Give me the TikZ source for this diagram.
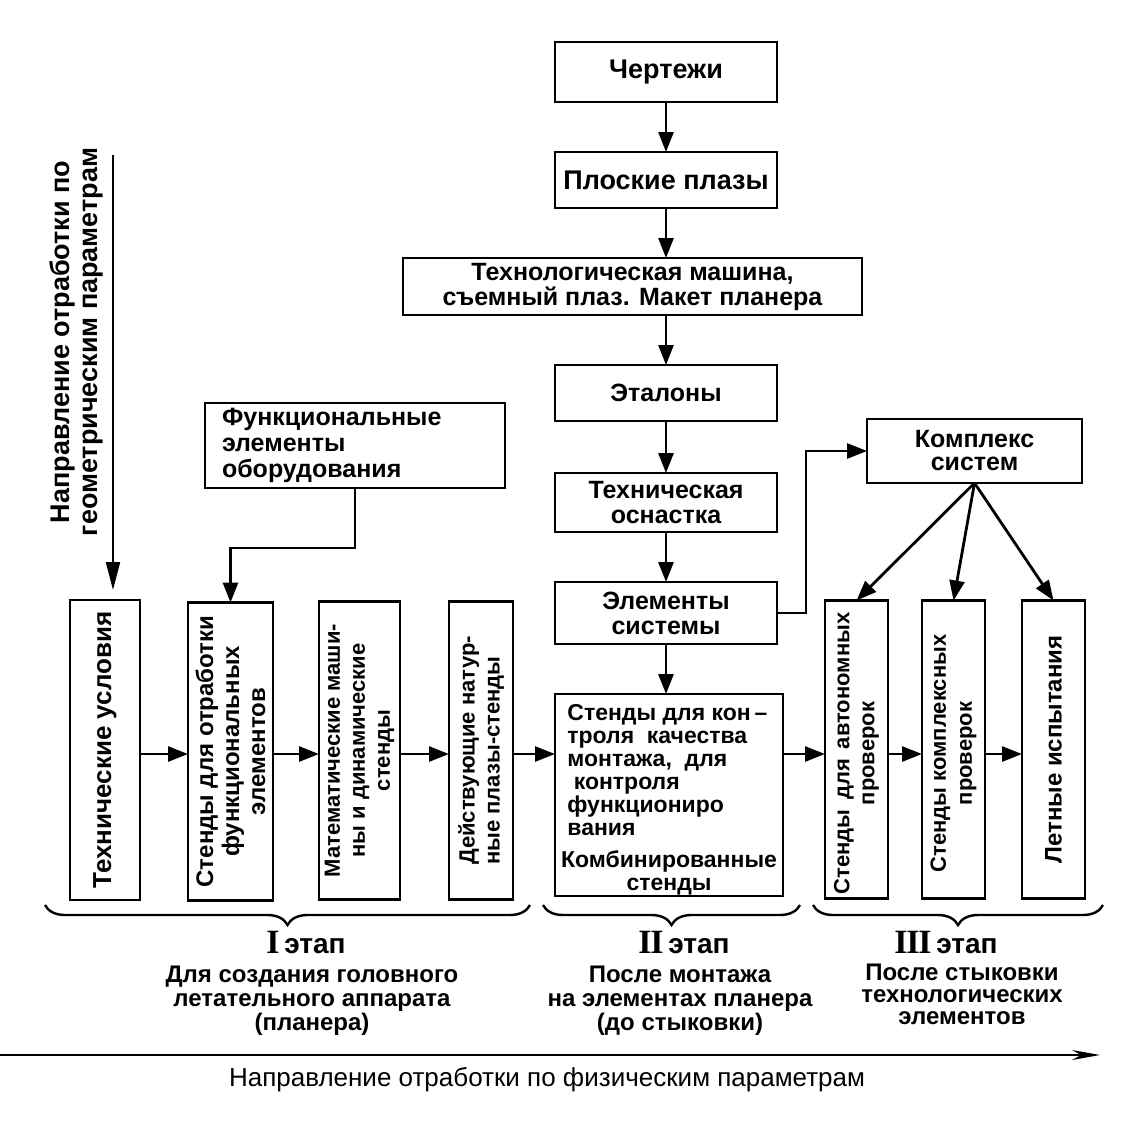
\documentclass[tikz,border=0pt]{standalone}
\usepackage{fontspec}
\setmainfont{Liberation Sans}
\newfontfamily\romfont{Liberation Serif}
\usetikzlibrary{arrows.meta,positioning,decorations.pathreplacing,calc}
\newcommand{\stagenum}[1]{{\romfont\bfseries\fontsize{17}{17}\selectfont #1}}

\begin{document}
\begin{tikzpicture}[x=0.5pt, y=-0.5pt,
  box/.style={rectangle, draw, line width=1.4pt, outer sep=0pt, inner sep=2pt, align=center, font=\bfseries\fontsize{12.5}{12.5}\selectfont},
  chain/.style={box, minimum width=111pt, minimum height=28pt},
  vbox/.style={rectangle, draw, line width=1.4pt, outer sep=0pt, minimum height=149pt, inner sep=0pt},
  vtext/.style={rotate=90, align=center, inner sep=0pt, font=\bfseries\fontsize{12}{13}\selectfont},
  arrow/.style={-{Triangle[length=10pt,width=7.5pt]}, line width=1.4pt},
  stage/.style={align=center, inner sep=0pt, font=\bfseries\fontsize{12}{12}\selectfont},
  brc/.style={decorate, decoration={brace, mirror, amplitude=10pt}, line width=1.2pt},
]
  \useasboundingbox (0,0) rectangle (1139,1120);

  \node[chain, minimum height=30pt, font=\bfseries\fontsize{13.5}{13.5}\selectfont] (cher) at (666,72) {Чертежи};
  \node[chain, below=25pt of cher, font=\bfseries\fontsize{13.5}{13.5}\selectfont] (plaz) {Плоские плазы};
  \node[box, minimum width=229.5pt, minimum height=28.5pt, below=25pt of plaz, xshift=-16.75pt] (mash) {Технологическая машина,\\съемный плаз. Макет планера};
  \node[chain, below=25pt of mash, xshift=16.75pt] (etal) {Эталоны};
  \node[chain, minimum height=29.5pt, below=26pt of etal] (osn) {Техническая\\оснастка};
  \node[chain, minimum height=31pt, below=25pt of osn] (elem) {Элементы\\системы};
  \node[box, minimum width=114pt, minimum height=101pt, below=25pt of elem.south west, anchor=north west] (kontr) {};
  \node[anchor=north west, align=left, inner sep=0pt, font=\bfseries\fontsize{11.5}{11.5}\selectfont] (kontrtxt) at ([xshift=6pt,yshift=-5pt]kontr.north west) {Стенды для кон\,--\\троля\ \ качества\\монтажа,\ \ для\\\ контроля\\функциониро\\вания};
  \node[anchor=south, align=center, inner sep=0pt, font=\bfseries\fontsize{11.5}{11.5}\selectfont] (kombi) at ([yshift=0.5pt]kontr.south) {Комбинированные\\стенды};

  \node[box, minimum width=150pt, minimum height=42.5pt, text width=133pt, inner xsep=8.5pt, align=left, font=\bfseries\fontsize{12.5}{13}\selectfont] (func) at (355,445.5) {Функциональные\\элементы\\оборудования};
  \node[box, minimum width=107.5pt, minimum height=32pt, font=\bfseries\fontsize{12.5}{11.5}\selectfont] (kompl) at (974.5,451) {Комплекс\\систем};

  \coordinate (mid) at (0,754);
  \node[vbox, minimum width=35pt, minimum height=150pt] (tu) at (105,750) {};
  \node[vtext, font=\bfseries\fontsize{13}{13}\selectfont] (tutxt) at (tu) {Технические условия};
  \node[vbox, minimum width=42.5pt] (stf) at (230.5,751.5) {};
  \node[vtext] (stftxt) at (stf) {Стенды для отработки\\функциональных\\элементов};
  \node[vbox, minimum width=40.5pt] (mat) at (359.5,750.5) {};
  \node[vtext, font=\bfseries\fontsize{11}{12.5}\selectfont] (mattxt) at (mat) {Математические маши-\\ны и динамические\\стенды};
  \node[vbox, minimum width=32pt] (dei) at (481,750.5) {};
  \node[vtext, align=left, font=\bfseries\fontsize{11}{12.5}\selectfont] (deitxt) at (dei) {Действующие натур-\\ные плазы-стенды};
  \node[vbox, minimum width=31.5pt] (avt) at (856.5,749.5) {};
  \node[vtext, font=\bfseries\fontsize{11}{12.5}\selectfont] (avttxt) at ([yshift=-2pt]avt.center) {Стенды\,\ для\,\ автономных\\проверок};
  \node[vbox, minimum width=31.5pt] (kompr) at (953.5,749.5) {};
  \node[vtext, font=\bfseries\fontsize{11}{13}\selectfont] (komprtxt) at ([yshift=-2pt]kompr.center) {Стенды комплексных\\проверок};
  \node[vbox, minimum width=31.5pt] (let) at (1053.5,749.5) {};
  \node[vtext] (lettxt) at (let) {Летные испытания};

  \draw[arrow] (cher) -- (plaz);
  \draw[arrow] (plaz.south) -- (plaz.south |- mash.north);
  \draw[arrow] (etal.north |- mash.south) -- (etal.north);
  \draw[arrow] (etal) -- (osn);
  \draw[arrow] (osn) -- (elem);
  \draw[arrow] (elem.south) -- (elem.south |- kontr.north);
  \draw[arrow] (func.south) -- ++(0,60) -| (stf.north);
  \draw[arrow] (elem.east) -- ++(29,0) |- (kompl.west);
  \draw[arrow] (kompl.south) -- (avt.north);
  \draw[arrow] (kompl.south) -- (kompr.north);
  \draw[arrow] (kompl.south) -- (let.north);

  \draw[arrow] (tu.east |- mid) -- (stf.west |- mid);
  \draw[arrow] (stf.east |- mid) -- (mat.west |- mid);
  \draw[arrow] (mat.east |- mid) -- (dei.west |- mid);
  \draw[arrow] (dei.east |- mid) -- (kontr.west |- mid);
  \draw[arrow] (kontr.east |- mid) -- (avt.west |- mid);
  \draw[arrow] (avt.east |- mid) -- (kompr.west |- mid);
  \draw[arrow] (kompr.east |- mid) -- (let.west |- mid);

  % geometric direction
  \coordinate (gtop) at (113,155);
  \coordinate (gbot) at (113,590);
  \draw[-{Triangle[length=14pt,width=7pt]}, line width=1pt] (gtop) -- (gbot);
  \node[rotate=90, align=center, inner sep=0pt, font=\bfseries\fontsize{13.5}{14}\selectfont] (geom) at (76,342) {Направление отработки по\\геометрическим параметрам};

  % stages
  \draw[brc] (45,905) -- (530,905);
  \draw[brc] (543,905) -- (800,905);
  \draw[brc] (813,905) -- (1103,905);
  \node[stage, font=\bfseries\fontsize{14}{14}\selectfont] (st1) at (306,942) {\stagenum{I}\,этап};
  \node[stage, below=6pt of st1, xshift=3pt] (d1) {Для создания головного\\летательного аппарата\\(планера)};
  \node[stage, font=\bfseries\fontsize{14}{14}\selectfont] (st2) at (684,942) {\stagenum{I\kern-0.6pt I}\,этап};
  \node[stage, below=6pt of st2, xshift=-2pt] (d2) {После монтажа\\на элементах планера\\(до стыковки)};
  \node[stage, font=\bfseries\fontsize{14}{14}\selectfont] (st3) at (946,942) {\stagenum{I\kern-0.6pt I\kern-0.6pt I}\,этап};
  \node[stage, font=\bfseries\fontsize{12}{11}\selectfont, below=5pt of st3, xshift=8pt] (d3) {После стыковки\\технологических\\элементов};

  % physical direction
  \coordinate (fstart) at (0,1055);
  \coordinate (fend) at (1100,1055);
  \draw[-{Stealth[length=14pt,width=5pt]}, line width=1.2pt] (fstart) -- (fend);
  \node[inner sep=0pt, font=\fontsize{13}{13}\selectfont] (fiz) at (547,1080) {Направление отработки по физическим параметрам};
\end{tikzpicture}
\end{document}
